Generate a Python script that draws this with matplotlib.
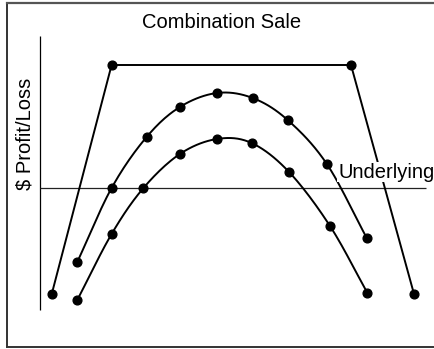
import numpy as np
import matplotlib
matplotlib.use("Agg")
import matplotlib.pyplot as plt
from matplotlib.lines import Line2D

plt.rcParams['font.family'] = ['Liberation Sans', 'DejaVu Sans']

# Combination sale: outer payoff (short straddle/strangle at expiry style)
outer_price = [0.35, 2.06, 8.90, 10.70]
outer_pl = [-10.6, 12.3, 12.3, -10.6]

# Upper time-value curve
upper_price = [1.08, 2.06, 3.06, 4.01, 5.07, 6.09, 7.09, 8.21, 9.35]
upper_pl = [-7.4, 0.0, 5.1, 8.1, 9.5, 9.0, 6.8, 2.4, -5.0]

# Lower time-value curve
lower_price = [1.08, 2.06, 2.97, 4.01, 5.07, 6.06, 7.13, 8.30, 9.37]
lower_pl = [-11.2, -4.6, 0.0, 3.4, 4.9, 4.5, 1.6, -3.8, -10.5]

title = "Combination Sale"
ylabel = "$ Profit/Loss"
xlabel = "Underlying"


def smooth(xs, ys, n=20):
    """Catmull-Rom spline through the given points for a smooth drawn path."""
    p = np.column_stack([xs, ys]).astype(float)
    p = np.vstack([2 * p[0] - p[1], p, 2 * p[-1] - p[-2]])
    out = []
    t = np.linspace(0, 1, n, endpoint=False)[:, None]
    for i in range(1, len(p) - 2):
        p0, p1, p2, p3 = p[i - 1], p[i], p[i + 1], p[i + 2]
        seg = 0.5 * ((2 * p1) + (-p0 + p2) * t
                     + (2 * p0 - 5 * p1 + 4 * p2 - p3) * t ** 2
                     + (-p0 + 3 * p1 - 3 * p2 + p3) * t ** 3)
        out.append(seg)
    out.append(p[-2][None, :])
    out = np.vstack(out)
    return out[:, 0], out[:, 1]


W, H = 434, 349
fig = plt.figure(figsize=(W / 100, H / 100), dpi=100)
fig.patch.set_facecolor("white")
ax = fig.add_axes([0, 0, 1, 1])
ax.set_xlim(-39.5 / 35, (W - 39.5) / 35)
ax.set_ylim((188 - H) / 10, 188 / 10)
ax.axis("off")

# Axis and zero line
ax.plot([0, 0], [15.2, -12.2], color="black", lw=0.9, solid_capstyle="butt")
ax.plot([0, 11.04], [0, 0], color="#222222", lw=0.9, solid_capstyle="butt")

line_kw = dict(color="black", lw=1.4)
mark_kw = dict(marker="o", color="black", ms=6.3, ls="none", zorder=4)

ax.plot(outer_price, outer_pl, **line_kw)
ax.plot(outer_price, outer_pl, **mark_kw)

for px, py in ((upper_price, upper_pl), (lower_price, lower_pl)):
    sx, sy = smooth(px, py)
    ax.plot(sx, sy, **line_kw)
    ax.plot(px, py, **mark_kw)

# Labels
fig.text(222 / W, 1 - 23 / H, title, ha="center", va="center", fontsize=14.5)
fig.text(25 / W, 1 - 134 / H, ylabel, ha="center", va="center",
         rotation=90, fontsize=14.5)
ax.text(338 / W, 1 - 172 / H, xlabel, transform=fig.transFigure,
        ha="left", va="center", fontsize=14.5, zorder=5,
        bbox=dict(facecolor="white", edgecolor="none", pad=0.5))

# Outer frame
frame_col = "#333333"
fig.add_artist(Line2D([6.5 / W, 6.5 / W], [1 - 2.5 / H, 1 - 347 / H],
                      transform=fig.transFigure, color=frame_col, lw=1.4))
fig.add_artist(Line2D([6.5 / W, 1], [1 - 2.5 / H, 1 - 2.5 / H],
                      transform=fig.transFigure, color="#555555", lw=1.6))
fig.add_artist(Line2D([6.5 / W, 1], [1 - 347 / H, 1 - 347 / H],
                      transform=fig.transFigure, color=frame_col, lw=1.4))

fig.savefig("out.png", dpi=100, facecolor="white")
